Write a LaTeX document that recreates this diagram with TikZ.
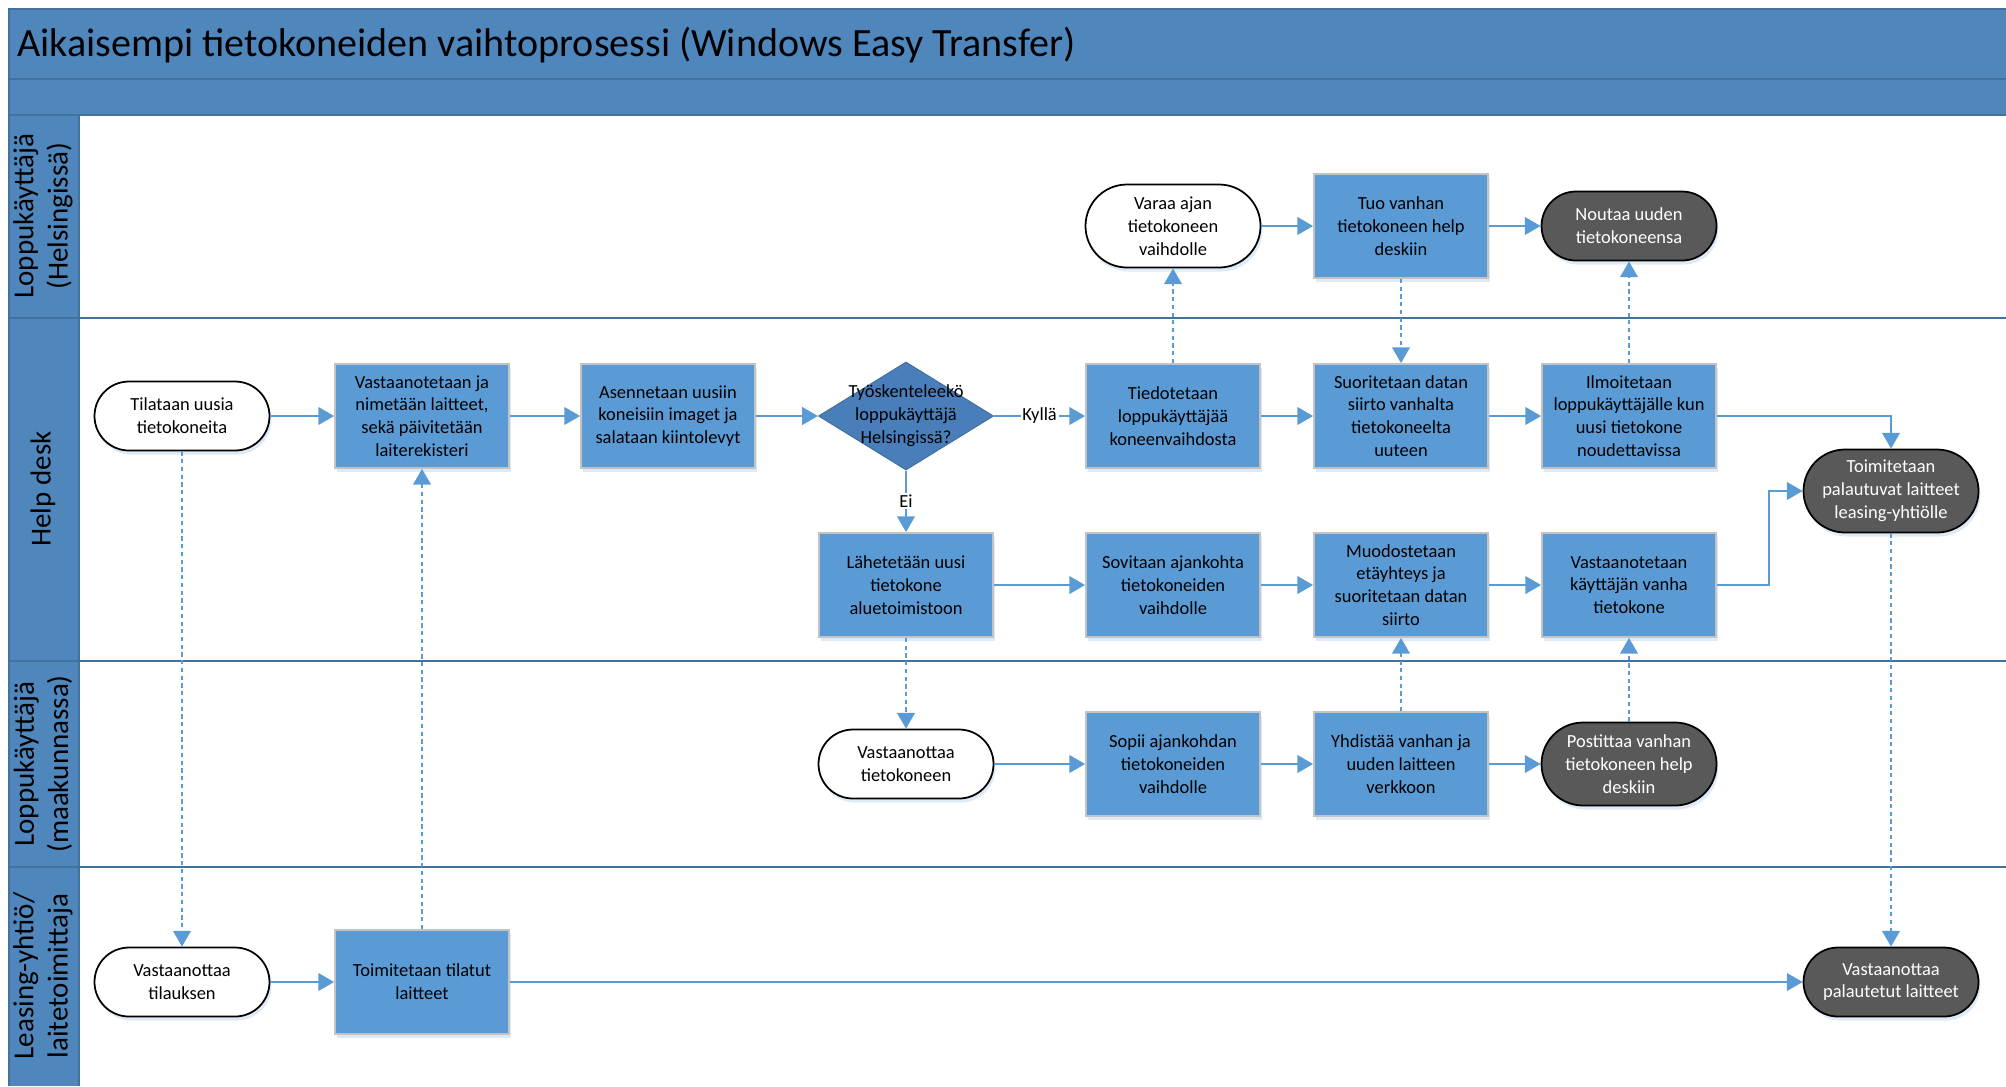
\documentclass[tikz,border=0pt]{standalone}
\usepackage{fontspec}
\setmainfont{Carlito}
\usepackage{tikz}
\usetikzlibrary{arrows.meta,shapes.geometric,shadows}
\definecolor{bandblue}{HTML}{4F87BD}
\definecolor{laneline}{HTML}{41719C}
\definecolor{boxblue}{HTML}{5B9BD5}
\definecolor{boxedge}{HTML}{C3C3C3}
\definecolor{diablue}{HTML}{4A7EBA}
\definecolor{enddark}{HTML}{595959}
\tikzset{
    task/.style={draw=boxedge, line width=1pt, fill=boxblue, minimum width=34.8mm,
        minimum height=20.8mm, align=center, inner sep=1pt,
        drop shadow={shadow xshift=0.4mm, shadow yshift=-0.8mm, fill=boxblue!40, opacity=0.5}},
    terminal/.style={draw=black, line width=1pt, fill=white, rounded corners=6.9mm,
        minimum width=35mm, minimum height=13.8mm, align=center, inner sep=1pt,
        drop shadow={shadow xshift=0.4mm, shadow yshift=-0.8mm, fill=boxblue!40, opacity=0.5}},
    tall/.style={rounded corners=8.3mm, minimum height=16.6mm},
    endterm/.style={terminal, fill=enddark, text=white},
    decision/.style={diamond, draw=laneline, line width=0.6pt, fill=diablue,
        minimum width=35mm, minimum height=21.6mm, inner sep=0pt},
    flow/.style={draw=boxblue, line width=1.4pt, -{Triangle[length=9pt,width=10pt]}},
    info/.style={flow, dash pattern=on 2.4pt off 2pt},
    answer/.style={fill=white, inner sep=1pt, text=black},
    lanetext/.style={rotate=90, align=center, font=\fontsize{16.5}{19.5}\selectfont}
}

\begin{document}
\begin{tikzpicture}[x=0.2mm, y=-0.2mm, font=\fontsize{10.5}{13}\selectfont]
            \useasboundingbox (0,0) rectangle (2006,1086);
            \fill[bandblue] (9,9) rectangle (2006,115);
            \fill[bandblue] (9,115) rectangle (79,1086);
            \foreach \y in {79,115,318,661,867}
                \draw[laneline, line width=1.2pt] (9,\y) -- (2006,\y);
            \draw[laneline, line width=1.2pt] (79,115) -- (79,1086);
            \draw[laneline, line width=1.2pt] (9,1086) -- (9,9) -- (2006,9);

            \node[anchor=west, font=\fontsize{22.8}{27}\selectfont] (title) at (11,45)
                {Aikaisempi tietokoneiden vaihtoprosessi (Windows Easy Transfer)};
            \node[lanetext] (lane1) at (43,216) {Loppukäyttäjä\\(Helsingissä)};
            \node[lanetext] (lane2) at (43,489) {Help desk};
            \node[lanetext] (lane3) at (43,764) {Loppukäyttäjä\\(maakunnassa)};
            \node[lanetext] (lane4) at (43,976) {Leasing-yhtiö/\\laitetoimittaja};

            \node[terminal, tall] (varaa) at (1173,226) {Varaa ajan\\tietokoneen\\vaihdolle};
            \node[task] (tuo) at (1401,226) {Tuo vanhan\\tietokoneen help\\deskiin};
            \node[endterm] (nouda) at (1629,226) {Noutaa uuden\\tietokoneensa};

            \node[terminal] (tilaa) at (182,416) {Tilataan uusia\\tietokoneita};
            \node[task] (nimea) at (422,416) {Vastaanotetaan ja\\nimetään laitteet,\\sekä päivitetään\\laiterekisteri};
            \node[task] (asenna) at (668,416) {Asennetaan uusiin\\koneisiin imaget ja\\salataan kiintolevyt};
            \node[decision, label={[align=center]center:Työskenteleekö\\loppukäyttäjä\\Helsingissä?}] (onko) at (906,416) {};
            \node[task] (tiedota) at (1173,416) {Tiedotetaan\\loppukäyttäjää\\koneenvaihdosta};
            \node[task] (siirto) at (1401,416) {Suoritetaan datan\\siirto vanhalta\\tietokoneelta\\uuteen};
            \node[task] (ilmoita) at (1629,416) {Ilmoitetaan\\loppukäyttäjälle kun\\uusi tietokone\\noudettavissa};
            \node[endterm, tall] (palauta) at (1891,491) {Toimitetaan\\palautuvat laitteet\\leasing-yhtiölle};
            \node[task] (laheta) at (906,585) {Lähetetään uusi\\tietokone\\aluetoimistoon};
            \node[task] (sovita) at (1173,585) {Sovitaan ajankohta\\tietokoneiden\\vaihdolle};
            \node[task] (etayht) at (1401,585) {Muodostetaan\\etäyhteys ja\\suoritetaan datan\\siirto};
            \node[task] (vastvanha) at (1629,585) {Vastaanotetaan\\käyttäjän vanha\\tietokone};

            \node[terminal] (vastkone) at (906,764) {Vastaanottaa\\tietokoneen};
            \node[task] (sopii) at (1173,764) {Sopii ajankohdan\\tietokoneiden\\vaihdolle};
            \node[task] (yhdista) at (1401,764) {Yhdistää vanhan ja\\uuden laitteen\\verkkoon};
            \node[endterm, tall] (postita) at (1629,764) {Postittaa vanhan\\tietokoneen help\\deskiin};

            \node[terminal] (vasttil) at (182,982) {Vastaanottaa\\tilauksen};
            \node[task] (toimita) at (422,982) {Toimitetaan tilatut\\laitteet};
            \node[endterm] (vastpal) at (1891,982) {Vastaanottaa\\palautetut laitteet};

            \draw[flow] (varaa) -- (tuo);
            \draw[flow] (tuo) -- (nouda);
            \draw[flow] (tilaa) -- (nimea);
            \draw[flow] (nimea) -- (asenna);
            \draw[flow] (asenna) -- (onko);
            \draw[flow] (onko) -- node[answer] {Kyllä} (tiedota);
            \draw[flow] (onko) -- node[answer] {Ei} (laheta);
            \draw[flow] (tiedota) -- (siirto);
            \draw[flow] (siirto) -- (ilmoita);
            \draw[flow] (ilmoita) -| (palauta);
            \draw[flow] (laheta) -- (sovita);
            \draw[flow] (sovita) -- (etayht);
            \draw[flow] (etayht) -- (vastvanha);
            \draw[flow] (vastvanha.east) -- ([xshift=10.4mm]vastvanha.east) |- (palauta);
            \draw[flow] (vastkone) -- (sopii);
            \draw[flow] (sopii) -- (yhdista);
            \draw[flow] (yhdista) -- (postita);
            \draw[flow] (vasttil) -- (toimita);
            \draw[flow] (toimita) -- (vastpal);

            \draw[info] (tiedota) -- (varaa);
            \draw[info] (tuo) -- (siirto);
            \draw[info] (ilmoita) -- (nouda);
            \draw[info] (laheta) -- (vastkone);
            \draw[info] (yhdista) -- (etayht);
            \draw[info] (postita) -- (vastvanha);
            \draw[info] (tilaa) -- (vasttil);
            \draw[info] (toimita) -- (nimea);
            \draw[info] (palauta) -- (vastpal);
        \end{tikzpicture}
\end{document}
